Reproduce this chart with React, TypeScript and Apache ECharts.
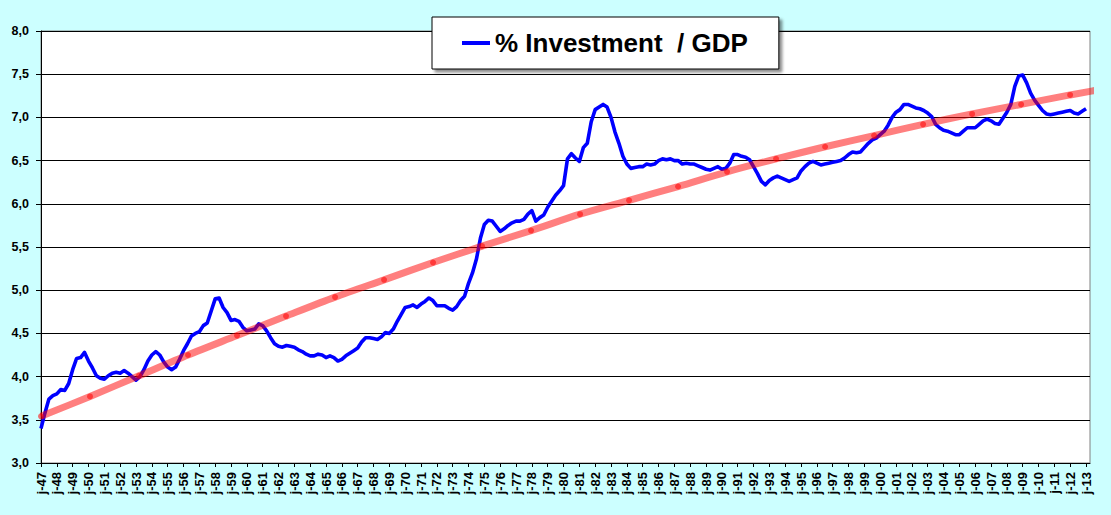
import React, { useEffect, useRef } from "react";
import * as echarts from "echarts";

// Quarterly categories 1947 Q1 .. 2013 Q2
const FIRST_YEAR = 1947;
const LAST_YEAR = 2013;
const LAST_QUARTER = 2;

const SERIES_NAME = "% Investment  / GDP";

// % Investment / GDP, quarterly, one row per year (Q1..Q4)
const INVESTMENT: (number | null)[] = [
  3.40, 3.58, 3.74, 3.78, // 47
  3.80, 3.85, 3.84, 3.92, // 48
  4.08, 4.21, 4.22, 4.28, // 49
  4.18, 4.10, 4.01, 3.98, // 50
  3.97, 4.01, 4.04, 4.05, // 51
  4.04, 4.07, 4.04, 4.00, // 52
  3.96, 4.00, 4.08, 4.18, // 53
  4.25, 4.29, 4.25, 4.17, // 54
  4.11, 4.08, 4.11, 4.20, // 55
  4.30, 4.38, 4.47, 4.50, // 56
  4.52, 4.59, 4.62, 4.76, // 57
  4.90, 4.91, 4.80, 4.74, // 58
  4.65, 4.66, 4.64, 4.57, // 59
  4.53, 4.54, 4.55, 4.61, // 60
  4.59, 4.53, 4.45, 4.38, // 61
  4.35, 4.34, 4.36, 4.35, // 62
  4.34, 4.31, 4.29, 4.26, // 63
  4.24, 4.24, 4.26, 4.25, // 64
  4.22, 4.24, 4.22, 4.18, // 65
  4.20, 4.24, 4.27, 4.30, // 66
  4.33, 4.40, 4.45, 4.45, // 67
  4.44, 4.43, 4.46, 4.51, // 68
  4.50, 4.55, 4.64, 4.72, // 69
  4.80, 4.81, 4.83, 4.80, // 70
  4.84, 4.87, 4.91, 4.88, // 71
  4.82, 4.82, 4.82, 4.79, // 72
  4.77, 4.81, 4.88, 4.93, // 73
  5.08, 5.20, 5.36, 5.60, // 74
  5.76, 5.81, 5.80, 5.74, // 75
  5.68, 5.71, 5.75, 5.78, // 76
  5.80, 5.80, 5.82, 5.88, // 77
  5.92, 5.80, 5.84, 5.87, // 78
  5.96, 6.03, 6.10, 6.15, // 79
  6.21, 6.52, 6.58, 6.53, // 80
  6.49, 6.65, 6.70, 6.95, // 81
  7.09, 7.12, 7.15, 7.12, // 82
  7.00, 6.83, 6.70, 6.55, // 83
  6.46, 6.41, 6.42, 6.43, // 84
  6.43, 6.46, 6.45, 6.46, // 85
  6.50, 6.52, 6.51, 6.52, // 86
  6.50, 6.50, 6.46, 6.47, // 87
  6.46, 6.46, 6.44, 6.42, // 88
  6.40, 6.39, 6.41, 6.43, // 89
  6.40, 6.41, 6.47, 6.57, // 90
  6.57, 6.55, 6.54, 6.51, // 91
  6.43, 6.35, 6.26, 6.22, // 92
  6.27, 6.30, 6.32, 6.30, // 93
  6.28, 6.26, 6.28, 6.30, // 94
  6.38, 6.43, 6.47, 6.49, // 95
  6.47, 6.45, 6.46, 6.47, // 96
  6.48, 6.49, 6.50, 6.53, // 97
  6.57, 6.60, 6.59, 6.60, // 98
  6.65, 6.70, 6.74, 6.76, // 99
  6.80, 6.84, 6.91, 7.00, // 00
  7.06, 7.09, 7.15, 7.15, // 01
  7.13, 7.11, 7.10, 7.08, // 02
  7.05, 7.01, 6.92, 6.88, // 03
  6.85, 6.84, 6.82, 6.80, // 04
  6.80, 6.84, 6.88, 6.88, // 05
  6.88, 6.92, 6.96, 6.98, // 06
  6.96, 6.93, 6.92, 6.99, // 07
  7.06, 7.15, 7.36, 7.48, // 08
  7.49, 7.40, 7.28, 7.20, // 09
  7.14, 7.08, 7.04, 7.03, // 10
  7.04, 7.05, 7.06, 7.07, // 11
  7.08, 7.05, 7.04, 7.07, // 12
  7.10, null,             // 13
];

// Trend curve, one point per marker step
const TREND: number[] = [
  3.54, 3.77, 4.01, 4.25, 4.475, 4.70, 4.92, 5.12, 5.32, 5.51, 5.69, 5.88,
  6.04, 6.20, 6.37, 6.52, 6.66, 6.79, 6.92, 7.04, 7.15, 7.26, 7.36,
];
const TREND_STEP_QUARTERS = 12.38;

const Y_MIN = 3;
const Y_MAX = 8;
const Y_STEP = 0.5;

function buildCategories(): string[] {
  const out: string[] = [];
  for (let y = FIRST_YEAR; y <= LAST_YEAR; y++) {
    const lastQ = y === LAST_YEAR ? LAST_QUARTER : 4;
    for (let q = 1; q <= lastQ; q++) out.push(`${y}-Q${q}`);
  }
  return out;
}

export default function App() {
  const ref = useRef<HTMLDivElement>(null);

  useEffect(() => {
    if (!ref.current) return;
    const chart = echarts.init(ref.current, undefined, { renderer: "svg" });
    const categories = buildCategories();
    const trendMax = (categories.length - 1) / TREND_STEP_QUARTERS;
    const font = "Arial, 'Liberation Sans', sans-serif";

    chart.setOption({
      animation: false,
      backgroundColor: "#CCFFFF",
      grid: {
        left: 41,
        right: 21,
        top: 31,
        bottom: 52,
        show: true,
        backgroundColor: "#FFFFFF",
        borderColor: "#808080",
        borderWidth: 1,
      },
      legend: {
        data: [SERIES_NAME],
        left: 432,
        top: 17,
        icon: "rect",
        itemWidth: 28,
        itemHeight: 4,
        padding: [13, 31, 13, 30],
        backgroundColor: "#FFFFFF",
        borderColor: "#000000",
        borderWidth: 1,
        shadowColor: "rgba(0,0,0,0.45)",
        shadowBlur: 3,
        shadowOffsetX: 3,
        shadowOffsetY: 3,
        textStyle: {
          fontFamily: font,
          fontSize: 26,
          fontWeight: "bold",
          color: "#000000",
          lineHeight: 26,
        },
      },
      xAxis: [
        {
          type: "category",
          data: categories,
          boundaryGap: false,
          axisLine: { show: true, lineStyle: { color: "#000000", width: 1 } },
          axisTick: {
            show: true,
            interval: 3,
            length: 4,
            lineStyle: { color: "#000000" },
          },
          axisLabel: {
            interval: 3,
            rotate: 90,
            margin: 9,
            fontFamily: font,
            fontSize: 13,
            fontWeight: "bold",
            color: "#000000",
            formatter: (v: string) => "j-" + v.slice(2, 4),
          },
          splitLine: { show: false },
        },
        {
          type: "value",
          min: 0,
          max: trendMax,
          show: false,
        },
      ],
      yAxis: {
        type: "value",
        min: Y_MIN,
        max: Y_MAX,
        interval: Y_STEP,
        axisLine: { show: true, lineStyle: { color: "#000000", width: 1 } },
        axisTick: { show: true, length: 5, lineStyle: { color: "#000000" } },
        axisLabel: {
          margin: 12,
          fontFamily: font,
          fontSize: 12.5,
          fontWeight: "bold",
          color: "#000000",
          formatter: (v: number) => v.toFixed(1).replace(".", ","),
        },
        splitLine: { show: true, lineStyle: { color: "#000000", width: 1 } },
      },
      series: [
        {
          name: SERIES_NAME,
          type: "line",
          data: INVESTMENT,
          xAxisIndex: 0,
          showSymbol: false,
          symbol: "none",
          itemStyle: { color: "#0000FF" },
          lineStyle: { color: "#0000FF", width: 3.6, join: "round" },
          z: 2,
        },
        {
          name: "Trend",
          type: "line",
          xAxisIndex: 1,
          data: TREND.map((v, k) => [k, v]),
          smooth: 0.3,
          symbol: "circle",
          symbolSize: 6,
          showSymbol: true,
          itemStyle: { color: "rgba(255,0,0,0.55)", borderWidth: 0 },
          lineStyle: { color: "rgba(255,0,0,0.5)", width: 7 },
          emphasis: { disabled: true },
          z: 3,
        },
      ],
    });

    return () => chart.dispose();
  }, []);

  return (
    <div
      ref={ref}
      style={{ position: "absolute", left: 0, top: 0, width: 1111, height: 515 }}
    />
  );
}
